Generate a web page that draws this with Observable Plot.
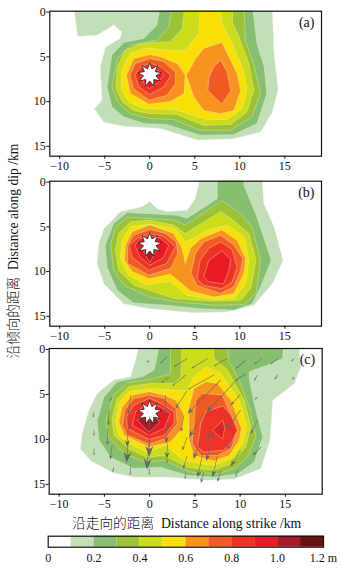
<!DOCTYPE html>
<html><head><meta charset="utf-8">
<script src="https://cdn.jsdelivr.net/npm/d3@7"></script>
<script src="https://cdn.jsdelivr.net/npm/@observablehq/plot@0.6"></script>
<style>
html,body{margin:0;padding:0;background:#fff;width:343px;height:572px;overflow:hidden;position:relative}
svg{position:absolute;overflow:visible;background:transparent}
.lab{position:absolute;white-space:pre;font-family:"Liberation Serif","Noto Sans CJK SC",serif;color:#111;line-height:1}
.cjk{font-family:"Noto Sans CJK SC",sans-serif;font-weight:300}
</style></head><body>
<div id="root"></div>
<script>
const SANS = '"Liberation Serif","Noto Sans CJK SC",serif';
const levelColors = ["#c2dfb8","#86bf6f","#9cc336","#cddc1a","#f8e006","#f7931e","#f15a22","#ee3324","#e81c24","#a81c26","#6b1014"];
const xTicks = [-10,-5,0,5,10,15];
const yTicks = [0,5,10,15];
const barEdges = [0,.1,.2,.3,.4,.5,.6,.7,.8,.9,1,1.1,1.2];
const barTicks = [0,.2,.4,.6,.8,1,1.2];
const barColors = ["#ffffff",...levelColors];

const panelA = [
[0,[[-8.4,-.3],[-8,2.7],[-5.9,2.6],[-4,1.45],[-3.1,2.2],[-3.3,2.95],[-4.9,3.9],[-5.5,6.1],[-5.3,9.85],[-6.15,10.8],[-5.1,12.3],[-2.9,12.75],[1.2,13],[5.25,14.3],[9.3,14.15],[12.3,13.4],[13.6,11.15],[14.25,8.7],[13.8,4.6],[13.6,-.3]]],
[1,[[1.1,-.3],[.8,1.45],[-.65,2.95],[-2.9,3.4],[-4.2,4.8],[-4.75,8.35],[-4.2,10.6],[-2.9,11.7],[-.65,12.45],[1.9,12.55],[5.6,13.75],[9.3,13.7],[11.9,12.45],[13,9.1],[12.7,6.1],[11.9,3.5],[11.45,-.3]]],
[2,[[2.5,-.3],[2.1,1.65],[.8,3.15],[-2.15,3.7],[-3.6,5.2],[-4.2,8.35],[-3.6,10],[-2.15,11.35],[.05,11.9],[2.65,12],[5.6,13.2],[9,13.2],[11.35,11.7],[12.3,9.1],[11.55,5.75],[10.6,3.15],[10.6,2.4],[10.45,-.3]]],
[3,[[3.85,-.3],[3.6,1.85],[2.3,3.3],[-1,3.5],[-2.7,4.25],[-3.6,6.1],[-3.75,8.55],[-3.05,10],[-1.8,11],[.05,11.35],[2.85,11.4],[6,12.65],[9,12.55],[10.8,11.15],[11.55,8.7],[11,5.75],[9.9,2.75],[9.2,1.25],[9.2,-.3]]],
[4,[[5.6,-.3],[5.45,2.4],[3.95,4.3],[1.9,4.25],[-.3,4],[-2.15,4.6],[-3.05,6.3],[-3.2,8.55],[-2.35,10],[-.65,10.8],[2.65,10.85],[6.35,12],[8.6,12],[10.25,10.8],[10.8,8.55],[10.25,6.1],[9,3.15],[8,1.25],[7.85,-.3]]],
[5,[[0,4.75],[-1.8,5.2],[-2.6,7.05],[-2.15,9.1],[-.1,10.3],[2.3,10],[3.8,9.1],[3.95,7.05],[3.05,5.75],[1.2,5]]],
[5,[[8,3.4],[6,4.05],[5.1,5.2],[4.05,7.05],[4.9,9.5],[6,11],[7.85,11.35],[9.35,11],[10.1,8.75],[9.7,6.85]]],
[6,[[0,5.2],[-1.6,5.75],[-2.2,7.05],[-1.8,8.55],[-.1,9.85],[1.9,9.3],[2.85,8],[2.85,6.7],[1.55,5.55]]],
[6,[[7.85,5.4],[7.1,6.1],[6.55,7.4],[6.45,8.75],[8,10.3],[9,8.8],[8.6,6.7]]],
[7,[[0,5.75],[-1,6.1],[-1.65,7.05],[-1.2,8.35],[0,9.2],[1.55,8.35],[2.35,7.05],[1.2,6.1]]],
[8,[[0,6.2],[-.85,7.05],[-.65,8],[0,8.55],[1,7.8],[1.55,6.95],[.8,6.5]]]
];
const panelB = [
[0,[[5.55,-.3],[5.05,1.85],[4.15,3.15],[1.9,3.3],[.8,2.95],[0,2.2],[-.85,2.75],[-3.25,3.3],[-5.1,5.2],[-5.65,6.85],[-5.85,9.1],[-5.1,11.35],[-2.9,13.6],[0,14.15],[4.9,14.6],[8.6,14.5],[11.55,13.75],[13.6,11.35],[14.8,8.75],[13.8,5],[12.65,2.4],[12.5,-.3]]],
[1,[[7.5,-.3],[7.5,1.85],[4.15,4.05],[3.05,3.7],[-2.5,3.4],[-4,4.6],[-4.95,7.05],[-4.75,9.5],[-3.6,12.1],[-1.8,13.5],[1.9,13.75],[5.6,14.15],[9.35,14.3],[11.35,13.6],[12.3,11.7],[13.5,8.75],[11.9,3.9],[10.45,.35],[10.45,-.3]]],
[2,[[8,2.1],[3.95,4.8],[2.65,4.25],[-2.5,3.9],[-3.8,5],[-4.35,7.05],[-4,9.85],[-2.9,11.5],[0,12.85],[3.05,13.4],[7.1,13.75],[10.45,13.7],[11.8,12.45],[12.3,8.75],[11.35,5],[10.1,3.5]]],
[3,[[7.85,3.3],[3.95,5.75],[2.65,4.8],[0,4.25],[-2.15,4.45],[-3.45,5.75],[-3.8,7.6],[-3.45,9.85],[-1.8,11.5],[.45,12.25],[2.65,13],[7.1,13.3],[10.1,13.2],[11.2,11.9],[11.8,8.75],[11,5.75],[9,4.05]]],
[4,[[3.95,6.7],[2.85,5.2],[0,4.7],[-2.15,5],[-3.05,6.5],[-3.25,8.55],[-2.35,10.4],[-.3,11.5],[1.55,11.15],[2.3,11.1],[4.15,12.65],[7.1,13.1],[9.35,13],[10.65,11.35],[11,8.75],[10.45,6.1],[8.6,4.8],[6.35,5.4]]],
[5,[[0,4.8],[-1.95,5.55],[-2.7,7.05],[-2.8,8.75],[-1.95,10],[-.1,10.8],[2.3,10.3],[4.5,12.15],[7.1,12.85],[9.35,12.45],[10.45,10.2],[10.65,8.55],[9.7,6.5],[8,5.35],[5.7,6.3],[4.5,7.4],[3.95,9.1],[3.6,7.4],[2.65,5.75]]],
[6,[[0,5.3],[-1.8,5.95],[-2.45,7.05],[-2.45,9.1],[-.1,10.4],[2.3,9.65],[3.1,8],[2.95,6.7],[1.75,5.75]]],
[6,[[7.85,5.95],[6,6.7],[5.05,8],[4.6,10.2],[5.25,11.55],[7.85,12.45],[9.35,11.7],[10.1,9.85],[10.3,8.55],[9.35,7.05]]],
[7,[[0,5.75],[-1.4,6.3],[-2.3,7.05],[-1.95,8.4],[-.1,9.85],[1.85,9.1],[2.85,7.25],[1.55,6.1]]],
[7,[[7.85,6.7],[6.55,7.4],[5.6,8.75],[5.25,10.8],[6,11.55],[8,11.9],[9.15,11.15],[9.7,9.5],[9.15,7.6]]],
[8,[[0,6],[-1,6.3],[-1.65,7.05],[-1.05,8.4],[0,9.3],[1.55,8.4],[2.1,7.05],[1.2,6.3]]],
[8,[[8,7.7],[6.55,8.75],[6,10.6],[6.55,11.15],[8.2,11.35],[8.8,9.85],[9,8.7]]],
[9,[[-.65,7.8],[0,9],[.65,7.8],[0,7]]]
];
const panelC = [
[0,[[-1.2,-.3],[-1.55,1.2],[-2.1,3.05],[-3.95,3.4],[-5.8,4.9],[-6.7,6.75],[-7.45,9.35],[-7.65,11.05],[-6.55,12.35],[-3.95,13.75],[-1.75,14.2],[1.95,14.2],[6.4,14.55],[9.35,14.4],[12.3,13.25],[13.3,10.1],[13.6,5.65],[16,3.8],[16.7,1.95],[16.5,-.3]]],
[1,[[1.05,-.3],[.5,2.3],[-.8,3.05],[-3.6,3.6],[-5.05,5.3],[-5.8,7.9],[-5.6,10.1],[-4.3,12],[-1.75,13.25],[1.2,13.1],[4.15,14],[7.1,14.2],[9.7,13.85],[11.55,12.55],[12.5,9.75],[11.55,6],[11,3.25],[11,2.5],[13,1.75],[14.7,1],[14.8,-.3]]],
[2,[[2.3,-.3],[2.3,2.7],[-.05,3.35],[-2.5,3.7],[-3.95,5.1],[-4.85,7.9],[-4.5,9.75],[-2.85,11.6],[-.6,12.5],[1.6,12.35],[4.55,13.65],[7.5,13.85],[9.35,13.25],[10.8,12],[11.75,9.75],[11,6.4],[9.9,3.4],[8.7,1.2],[8.7,-.3]]],
[3,[[3.55,-.3],[3.45,3.05],[2.7,3.8],[-.05,3.8],[-2.3,4.15],[-3.6,5.45],[-4.15,7.7],[-3.95,9.55],[-2.3,11.05],[-.25,12],[1.6,11.8],[4.15,13.1],[7.1,13.45],[9,12.7],[10.6,10.85],[11.2,8.6],[10.45,5.65],[8.6,2.3],[7.1,1],[7.05,-.3]]],
[4,[[6.2,1.95],[4.9,3.05],[4.15,4.55],[3.05,4.55],[-.05,4.35],[-2.3,4.7],[-3.4,6],[-3.75,7.9],[-3.4,9.55],[-2.3,10.5],[-.25,11.4],[1.75,10.65],[3.8,12.35],[7.1,12.9],[9,12.15],[10.25,10.5],[10.75,8.6],[9.9,5.65],[7.85,2.7]]],
[5,[[-.05,4.7],[-1.9,5.1],[-3.05,6.4],[-3.4,8.05],[-2.85,9.55],[-.05,10.85],[2.3,10.3],[3.6,8.8],[3.75,7.15],[2.9,5.65],[1.6,5.1]]],
[5,[[6.2,3.6],[4.9,4.35],[4.35,6.4],[4.35,10.1],[4.9,11.8],[7.1,12.4],[8.8,11.8],[9.9,10.1],[10.15,8.8],[9,5.65],[7.5,3.8]]],
[6,[[-.05,5.1],[-1.75,5.45],[-2.75,6.75],[-3,8.45],[-2.45,9.55],[-.05,10.55],[1.75,9.9],[3.05,8.25],[2.9,6.6],[1.6,5.45]]],
[6,[[5.8,4.9],[5.1,5.65],[4.9,8.25],[4.7,10.5],[5.65,11.8],[7.5,11.8],[9,11.05],[9.7,9],[8.05,5.1]]],
[7,[[-.05,5.45],[-1.75,6.2],[-2.55,7.5],[-2.45,8.8],[-.05,10],[1.6,9.55],[2.7,8.25],[2.7,6.95],[1.2,6]]],
[7,[[8.05,6.3],[6.2,6.95],[5.65,8.25],[5.3,10.85],[6,11.4],[8.2,11.2],[9.15,10.1],[9.7,9],[9,7.3]]],
[8,[[0,6],[-1.55,6.95],[-1.9,8.45],[-.05,9.55],[1.6,8.8],[2.3,7.15],[1.2,6.4]]],
[8,[[8.05,7.9],[6.95,9],[8.05,9.95],[8.3,8.8]]],
[9,[[-1.35,7.9],[-.05,9.2],[1.15,8.05],[0,7]]]
];
const hypocentre = [[0,7]];
// slip arrows of panel (c): strike, dip, d-strike, d-dip (km)
const arrowsTiny = [[-.05,1.2,-.25,.3],[1.95,.8,-.8,.8],[4.15,1,-1.5,.95],[6.4,1,-1.75,1.1],[8.6,1,-1.5,.85],[10.6,1.2,-1.1,.95],[12.45,1,-.9,.65],[14.15,1,-.8,.65],[16,1,-.35,.35],[2.15,3.1,-.9,.6],[4,2.85,-1.5,1.2],[7.1,2.85,-2.9,1.6],[10.6,2.7,-1.1,.8],[11.9,2.85,-.35,.65],[14.15,2.85,-.35,.5],[16,3.05,-.3,.3],[11.9,5.3,-.3,.3],[-4.15,5.3,-.3,.45],[-6.15,6.95,-.1,.65],[-6.15,9,0,.65],[-6.15,11.05,0,.75],[-3.95,13.1,-.15,.55],[-2.1,12.9,-.05,1.1],[-.05,13.25,0,.75],[9.7,13.45,-.2,.75],[4,13.65,-.1,.75],[1.95,12.15,-.05,.55]];
const arrowsSmall = [[4.15,4.55,-1.3,2.05],[10.05,5,-1.1,1.2],[3.8,7.3,-.35,1.85],[10.05,6.75,-1.5,2.05],[11.9,7.9,-.75,1.5],[4.15,9.75,-.55,1.5],[12.3,10.85,-.9,.95],[4.15,11.8,-.45,1.5],[6,13.65,-.35,1.2],[7.85,13.45,-.35,1.3],[-4.15,10.65,-.2,1.6],[-4.6,8.8,-.05,1.85],[-4.5,6.75,-.05,1.7],[-2.1,5.1,-.25,2.1],[1.75,5.1,-.05,2.1],[9.35,9.55,-.85,1.5]];
const arrowsMedium = [[7.85,3.4,-3.7,3.75],[9.9,3.05,-3.6,3.9],[6,7.15,-1.65,2.6],[5.65,9.75,-.8,2.45],[10.05,11.2,-1.1,1.8],[7.5,11.8,-.55,2.4],[5.85,11.6,-.55,2.65],[1.85,8.25,0,2.2],[1.95,10.5,-.05,1.65],[-2.3,7.7,-.2,3.15],[9.35,7.9,-3.3,1.95],[7.1,9.35,-.85,3.05]];
const arrowsLarge = [[0,7.5,-.05,4.45],[-.05,10.1,-.25,3.25],[-2.35,10.1,-.2,2.5]];

const starShape = {draw(c,size){const R=Math.sqrt(size/Math.PI),n=9;for(let i=0;i<2*n;i++){const r=i%2?R*.52:R,a=Math.PI*i/n-Math.PI/2;const px=r*Math.cos(a),py=r*Math.sin(a);i?c.lineTo(px,py):c.moveTo(px,py);}c.closePath();}};
const stealth = {draw(c,l,r){const h=r*2.7,s=.28;c.moveTo(-s,0);c.lineTo(-s,-l+h*.7);c.lineTo(-r,-l+h);c.lineTo(0,-l);c.lineTo(r,-l+h);c.lineTo(s,-l+h*.7);c.lineTo(s,0);c.closePath();}};
const rows = p => p.flatMap(([level,pts],i)=>pts.map(([x,y])=>({id:i,x,y,color:levelColors[level]})));
const arrowMark = (list,r) => Plot.vector(list,{x:d=>d[0],y:d=>d[1],length:d=>Math.hypot(d[2],d[3]),rotate:d=>Math.atan2(d[2],-d[3])*180/Math.PI,anchor:"start",shape:stealth,r,fill:"#63656a",stroke:"none"});

function panel({data,top,mt,mb,ml,mr,letter,arrows=[]}){
  const p = Plot.plot({
    width:343,height:175,marginTop:mt,marginBottom:mb,marginLeft:ml,marginRight:mr,
    style:{background:"transparent",fontFamily:SANS,fontSize:"12px",color:"#111"},
    x:{domain:[-11.1,19.07]},y:{domain:[-.1,16.1],reverse:true},
    length:{type:"linear",domain:[0,10],range:[0,90]},
    marks:[
      Plot.line(rows(data),{x:"x",y:"y",z:"id",fill:"color",stroke:"#eef0dc",strokeOpacity:.75,strokeWidth:.5,curve:"linear-closed",clip:true}),
      Plot.dot(hypocentre,{x:d=>d[0],y:d=>d[1],r:12,symbol:starShape,fill:"#fff",stroke:"#111",strokeWidth:.7}),
      ...arrows,
      Plot.frame({stroke:"#111",strokeWidth:1.2}),
      Plot.axisX({ticks:xTicks,tickSize:3,tickPadding:2,label:null,fontSize:12}),
      Plot.axisY({ticks:yTicks,tickSize:3,tickPadding:1,label:null,fontSize:12}),
      Plot.text([letter],{frameAnchor:"top-right",dx:-7,dy:6,text:d=>d,fontSize:14,lineAnchor:"top",fill:"#111"})
    ]
  });
  p.style.left="0";p.style.top=top+"px";
  document.getElementById("root").appendChild(p);
}
panel({data:panelA,top:0,mt:10.7,mb:19.3,ml:49.3,mr:22,letter:"(a)"});
panel({data:panelB,top:170,mt:10.7,mb:19.3,ml:49.3,mr:22,letter:"(b)"});
panel({data:panelC,top:340,mt:8,mb:21.3,ml:48.7,mr:21.3,letter:"(c)",
  arrows:[arrowMark(arrowsTiny,1),arrowMark(arrowsSmall,1.6),arrowMark(arrowsMedium,2.5),arrowMark(arrowsLarge,4)]});

const bar = Plot.plot({
  width:343,height:40,marginTop:5.7,marginBottom:23.3,marginLeft:47.7,marginRight:20,
  style:{background:"transparent",fontFamily:SANS,fontSize:"12px",color:"#111"},
  x:{domain:[0,1.2]},y:{axis:null,domain:[0,1]},
  marks:[
    Plot.rectX(barColors,{x1:(d,i)=>barEdges[i],x2:(d,i)=>barEdges[i+1],y1:0,y2:1,fill:d=>d}),
    Plot.frame({stroke:"#111",strokeWidth:1.2}),
    Plot.axisX({ticks:barTicks,tickSize:0,tickPadding:6,label:null,fontSize:12,tickFormat:d=>d===1.2?"1.2 m":d===0?"0":d.toFixed(1)})
  ]
});
bar.style.left="0";bar.style.top="530px";
document.getElementById("root").appendChild(bar);

const add=(html,css)=>{const e=document.createElement("div");e.className="lab";e.innerHTML=html;Object.assign(e.style,css);document.body.appendChild(e);};
add('<span class="cjk">沿走向的距离</span>  Distance along strike /km',{left:"72px",top:"516px",fontSize:"13.7px"});
add('<span class="cjk">沿倾向的距离</span>  Distance along dip /km',{left:"13px",top:"251px",fontSize:"13.6px",transform:"translate(-50%,-50%) rotate(-90deg)"});
</script>
</body></html>
